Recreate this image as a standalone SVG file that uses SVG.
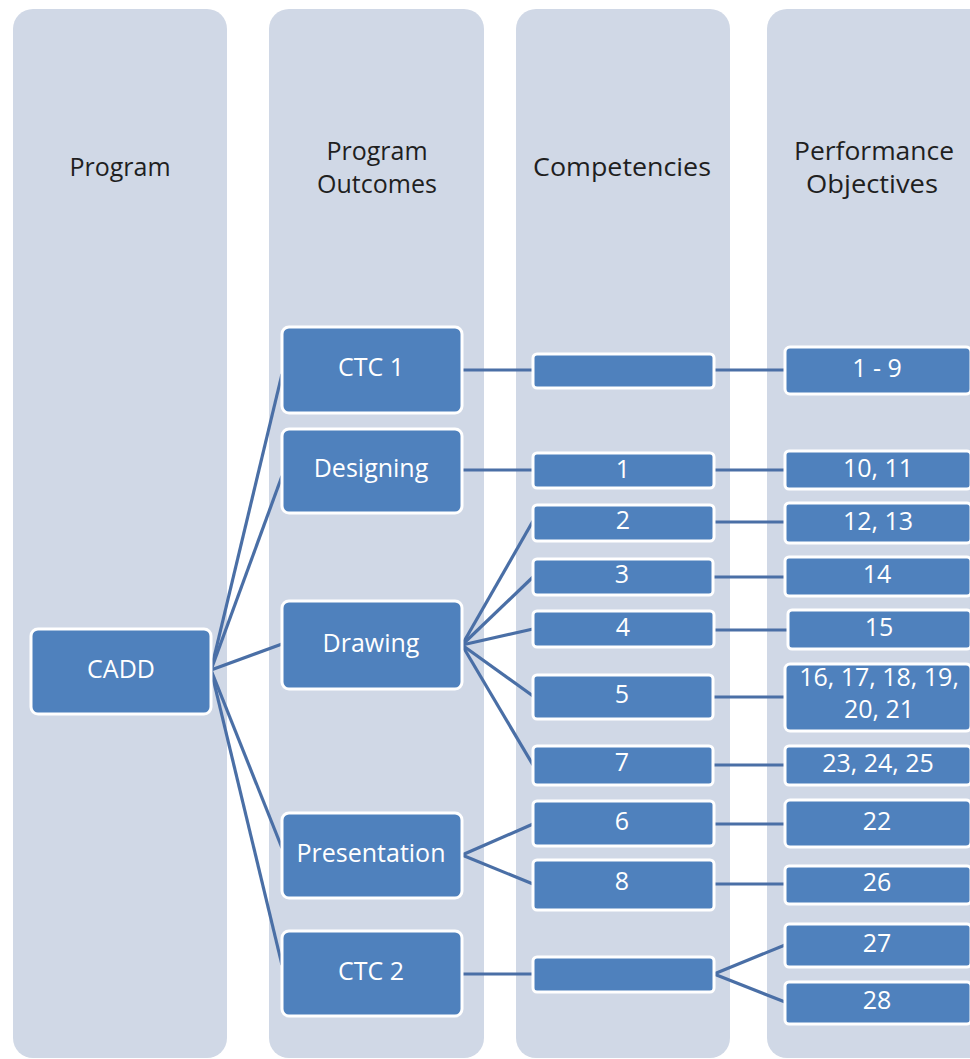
<svg xmlns="http://www.w3.org/2000/svg" width="970" height="1059" viewBox="0 0 970 1059">
<style>
.lane{fill:#D0D8E6}
.hdr{font-family:"Open Sans","Liberation Sans",sans-serif;font-size:25px;fill:#1f1f1f;text-anchor:middle}
.n{fill:#4F81BD;stroke:#FFFFFF;stroke-width:3}
.t{font-family:"Open Sans","Liberation Sans",sans-serif;font-size:25px;fill:#FFFFFF;text-anchor:middle}
.c{stroke:#4A6FA6;stroke-width:3.2;fill:none}
</style>
<rect width="970" height="1059" fill="#FFFFFF"/>
<g id="lanes">
<rect class="lane" x="13" y="9" width="214" height="1049" rx="20"/>
<rect class="lane" x="269" y="9" width="215" height="1049" rx="20"/>
<rect class="lane" x="516" y="9" width="214" height="1049" rx="20"/>
<rect class="lane" x="767" y="9" width="222" height="1049" rx="20"/>
<text class="hdr" x="120" y="176">Program</text>
<text class="hdr" x="377" y="160">Program</text>
<text class="hdr" x="377" y="193">Outcomes</text>
<text class="hdr" x="622" y="176" textLength="178" lengthAdjust="spacingAndGlyphs">Competencies</text>
<text class="hdr" x="874" y="160" textLength="160" lengthAdjust="spacingAndGlyphs">Performance</text>
<text class="hdr" x="872" y="193" textLength="132" lengthAdjust="spacingAndGlyphs">Objectives</text>
</g>
<g id="connectors">
<line class="c" x1="211" y1="670" x2="282" y2="374"/>
<line class="c" x1="211" y1="670" x2="282" y2="476"/>
<line class="c" x1="211" y1="670" x2="282" y2="644"/>
<line class="c" x1="211" y1="670" x2="282" y2="848"/>
<line class="c" x1="211" y1="670" x2="282" y2="965"/>
<line class="c" x1="462" y1="370" x2="533" y2="370"/>
<line class="c" x1="714" y1="370" x2="785" y2="370"/>
<line class="c" x1="462" y1="470" x2="533" y2="470"/>
<line class="c" x1="714" y1="470" x2="785" y2="470"/>
<line class="c" x1="462" y1="645" x2="533" y2="521"/>
<line class="c" x1="462" y1="645" x2="533" y2="577"/>
<line class="c" x1="462" y1="645" x2="533" y2="629"/>
<line class="c" x1="462" y1="645" x2="533" y2="696"/>
<line class="c" x1="462" y1="645" x2="533" y2="765"/>
<line class="c" x1="714" y1="522" x2="785" y2="522"/>
<line class="c" x1="714" y1="577" x2="785" y2="577"/>
<line class="c" x1="714" y1="630" x2="788" y2="630"/>
<line class="c" x1="714" y1="697" x2="785" y2="697"/>
<line class="c" x1="714" y1="765" x2="785" y2="765"/>
<line class="c" x1="462" y1="855" x2="533" y2="824"/>
<line class="c" x1="462" y1="855" x2="533" y2="884"/>
<line class="c" x1="714" y1="824" x2="785" y2="824"/>
<line class="c" x1="714" y1="884" x2="785" y2="884"/>
<line class="c" x1="462" y1="974" x2="533" y2="974"/>
<line class="c" x1="714" y1="974" x2="785" y2="945"/>
<line class="c" x1="714" y1="974" x2="785" y2="1002"/>
</g>
<g id="n-cadd"><rect class="n" x="31" y="629" width="180" height="85" rx="7"/><text class="t" x="121" y="678">CADD</text></g>
<g id="n-ctc1"><rect class="n" x="282" y="327" width="180" height="86" rx="7"/><text class="t" x="371" y="376">CTC 1</text></g>
<g id="n-designing"><rect class="n" x="282" y="429" width="180" height="84" rx="7"/><text class="t" x="371" y="477">Designing</text></g>
<g id="n-drawing"><rect class="n" x="282" y="601" width="180" height="88" rx="7"/><text class="t" x="371" y="652">Drawing</text></g>
<g id="n-presentation"><rect class="n" x="282" y="813" width="180" height="85" rx="7"/><text class="t" x="371" y="862">Presentation</text></g>
<g id="n-ctc2"><rect class="n" x="282" y="931" width="180" height="85" rx="7"/><text class="t" x="371" y="980">CTC 2</text></g>
<g id="c-blank1"><rect class="n" x="533" y="354" width="181" height="34" rx="4"/></g>
<g id="c-1"><rect class="n" x="533" y="453" width="181" height="35" rx="4"/><text class="t" x="623" y="478">1</text></g>
<g id="c-2"><rect class="n" x="533" y="505" width="181" height="36" rx="4"/><text class="t" x="623" y="529">2</text></g>
<g id="c-3"><rect class="n" x="533" y="559" width="180" height="36" rx="4"/><text class="t" x="622" y="583">3</text></g>
<g id="c-4"><rect class="n" x="533" y="611" width="181" height="36" rx="4"/><text class="t" x="623" y="636">4</text></g>
<g id="c-5"><rect class="n" x="533" y="675" width="180" height="44" rx="4"/><text class="t" x="622" y="703">5</text></g>
<g id="c-7"><rect class="n" x="533" y="746" width="180" height="39" rx="4"/><text class="t" x="622" y="771">7</text></g>
<g id="c-6"><rect class="n" x="533" y="801" width="181" height="45" rx="4"/><text class="t" x="622" y="830">6</text></g>
<g id="c-8"><rect class="n" x="533" y="860" width="181" height="50" rx="4"/><text class="t" x="622" y="890">8</text></g>
<g id="c-blank2"><rect class="n" x="533" y="957" width="181" height="35" rx="4"/></g>
<g id="o-1-9"><rect class="n" x="785" y="347" width="186" height="47" rx="5"/><text class="t" x="877" y="377">1 - 9</text></g>
<g id="o-10-11"><rect class="n" x="785" y="451" width="186" height="38" rx="4"/><text class="t" x="878" y="477">10, 11</text></g>
<g id="o-12-13"><rect class="n" x="785" y="503" width="186" height="40" rx="4"/><text class="t" x="878" y="530">12, 13</text></g>
<g id="o-14"><rect class="n" x="785" y="557" width="186" height="39" rx="4"/><text class="t" x="877" y="583">14</text></g>
<g id="o-15"><rect class="n" x="788" y="610" width="183" height="39" rx="4"/><text class="t" x="879" y="636">15</text></g>
<g id="o-16-21"><rect class="n" x="785" y="664" width="186" height="67" rx="5"/><text class="t" x="879" y="686">16, 17, 18, 19,</text><text class="t" x="879" y="718">20, 21</text></g>
<g id="o-23-25"><rect class="n" x="785" y="746" width="186" height="39" rx="4"/><text class="t" x="878" y="772">23, 24, 25</text></g>
<g id="o-22"><rect class="n" x="785" y="800" width="186" height="47" rx="5"/><text class="t" x="877" y="830">22</text></g>
<g id="o-26"><rect class="n" x="785" y="866" width="186" height="38" rx="4"/><text class="t" x="877" y="891">26</text></g>
<g id="o-27"><rect class="n" x="785" y="924" width="186" height="43" rx="4"/><text class="t" x="877" y="952">27</text></g>
<g id="o-28"><rect class="n" x="785" y="982" width="186" height="42" rx="4"/><text class="t" x="877" y="1009">28</text></g>
</svg>
